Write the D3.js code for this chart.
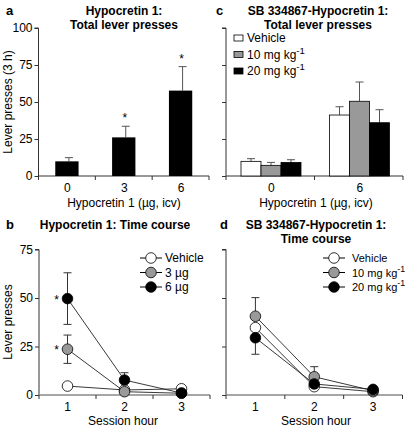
<!DOCTYPE html>
<html><head><meta charset="utf-8">
<script src="https://cdn.jsdelivr.net/npm/d3@7"></script>
<style>body{margin:0;background:#fff}svg{display:block;font-family:"Liberation Sans",Arial,sans-serif}</style>
</head><body>
<script>
// Panel a
const doseA = ["0","3","6"];
const meanA = [9.9, 26.1, 57.7];
const errA = [2.5, 7.5, 16.2];
const starA = [false, true, true];
const yTicksA = [0,25,50,75,100];
// Panel c
const doseC = ["0","6"];
const seriesC = ["Vehicle","10 mg kg","20 mg kg"];
const meanC = { "Vehicle":[9.9,41.2], "10 mg kg":[7.2,50.5], "20 mg kg":[9.2,36.0] };
const errC  = { "Vehicle":[1.8,5.6], "10 mg kg":[2.0,13.0], "20 mg kg":[1.8,8.8] };
// Panel b
const hours = [1,2,3];
const seriesB = ["Vehicle","3 µg","6 µg"];
const meanB = { "Vehicle":[4.6,2.6,3.2], "3 µg":[23.6,1.7,0.9], "6 µg":[49.7,7.7,1.0] };
const errB  = { "Vehicle":[0,0,0], "3 µg":[7.3,0,0], "6 µg":[13.3,3.8,0] };
const starB = { "Vehicle":[false,false,false], "3 µg":[true,false,false], "6 µg":[true,false,false] };
const yTicksB = [0,25,50,75];
// Panel d
const seriesD = ["Vehicle","10 mg kg","20 mg kg"];
const meanD = { "Vehicle":[34.7,4.3,1.7], "10 mg kg":[40.6,9.4,2.2], "20 mg kg":[29.5,5.7,2.9] };
const errUpD = { "Vehicle":[0,0,0], "10 mg kg":[9.6,5.2,0], "20 mg kg":[0,0,0] };
const errDnD = { "Vehicle":[0,0,0], "10 mg kg":[0,0,0], "20 mg kg":[8.5,0,0] };

const fills = ["#ffffff","#999999","#000000"];
const svg = d3.select("body").append("svg").attr("width",409).attr("height",429);
const axCol = "#333";

function text(x,y,t,opts={}){
  const el = svg.append("text").attr("x",x).attr("y",y).text(t)
    .attr("font-size",opts.size||12).attr("text-anchor",opts.anchor||"middle")
    .attr("font-weight",opts.bold?"bold":"normal").attr("fill","#000");
  return el;
}
function supText(x,y,base,sup,size){
  const el = svg.append("text").attr("x",x).attr("y",y).attr("font-size",size||12).attr("fill","#000");
  el.append("tspan").text(base);
  if(sup) el.append("tspan").attr("dy",-5).attr("font-size",(size||12)*0.8).text(sup);
  return el;
}

// ---------- Panel a ----------
{
  const x = d3.scaleBand().domain(doseA).range([38.5,209]).padding(0);
  const y = d3.scaleLinear().domain([0,100]).range([176,28]);
  const g = svg.append("g");
  g.append("line").attr("x1",38.5).attr("x2",209).attr("y1",y(0)).attr("y2",y(0)).attr("stroke",axCol);
  const bounds = doseA.map(d=>x(d)).concat([x(doseA[2])+x.bandwidth()]);
  bounds.forEach(b=>g.append("line").attr("x1",b).attr("x2",b).attr("y1",y(0)).attr("y2",y(0)+4).attr("stroke",axCol));
  doseA.forEach(d=>text(x(d)+x.bandwidth()/2+0.5,y(0)+16,d,{size:12}));
  const ya = g.append("g").attr("transform","translate(38.5,0)").call(d3.axisLeft(y).tickValues(yTicksA).tickSize(4).tickPadding(2));
  ya.selectAll("text").attr("font-size",12).attr("font-family","Liberation Sans, Arial").attr("fill","#000");
  ya.selectAll("line,path").attr("stroke",axCol);
  ya.select(".domain").attr("d",`M-4,${y(100)}H0V${y(0)}`);
  const bw = x.bandwidth()*0.41;
  doseA.forEach((d,i)=>{
    const cx = x(d)+x.bandwidth()/2;
    g.append("line").attr("x1",cx+2).attr("x2",cx+2).attr("y1",y(meanA[i])).attr("y2",y(meanA[i]+errA[i])).attr("stroke","#555");
    g.append("line").attr("x1",cx-2).attr("x2",cx+6).attr("y1",y(meanA[i]+errA[i])).attr("y2",y(meanA[i]+errA[i])).attr("stroke","#555");
    g.append("rect").attr("x",cx-bw/2).attr("width",bw).attr("y",y(meanA[i])).attr("height",y(0)-y(meanA[i])).attr("fill","#000");
    if(starA[i]) text(cx+1,y(meanA[i]+errA[i])-4,"*",{size:12});
  });
  text(6,15,"a",{size:13,bold:true,anchor:"start"});
  text(124,15,"Hypocretin 1:",{size:12,bold:true});
  text(124,29,"Total lever presses",{size:12,bold:true});
  text(124,207,"Hypocretin 1 (µg, icv)",{size:12});
  text(0,0,"Lever presses (3 h)",{size:12}).attr("transform","translate(12,102) rotate(-90)");
}

// ---------- Panel c ----------
{
  const x0 = d3.scaleBand().domain(doseC).range([226,403]).padding(0);
  const x1 = d3.scaleBand().domain(seriesC).range([15,75]).padding(0);
  const y = d3.scaleLinear().domain([0,100]).range([176,28]);
  const g = svg.append("g");
  g.append("line").attr("x1",226).attr("x2",403).attr("y1",y(0)).attr("y2",y(0)).attr("stroke",axCol);
  [226, x0("6"), 403].forEach(b=>g.append("line").attr("x1",b).attr("x2",b).attr("y1",y(0)).attr("y2",y(0)+4).attr("stroke",axCol));
  doseC.forEach(d=>text(x0(d)+x0.bandwidth()/2+1,y(0)+16,d,{size:12}));
  const ya = g.append("g").attr("transform","translate(226,0)").call(d3.axisLeft(y).tickValues(yTicksA).tickSize(4).tickFormat(""));
  ya.selectAll("line,path").attr("stroke",axCol);
  ya.select(".domain").attr("d",`M-4,${y(100)}H0V${y(0)}`);
  seriesC.forEach((s,si)=>{
    doseC.forEach((d,i)=>{
      const bx = x0(d)+x1(s), bw = x1.bandwidth();
      const m = meanC[s][i], e = errC[s][i];
      const cx = bx+bw/2;
      g.append("line").attr("x1",cx).attr("x2",cx).attr("y1",y(m)).attr("y2",y(m+e)).attr("stroke","#555");
      g.append("line").attr("x1",cx-4).attr("x2",cx+4).attr("y1",y(m+e)).attr("y2",y(m+e)).attr("stroke","#555");
      g.append("rect").attr("x",bx).attr("width",bw).attr("y",y(m)).attr("height",y(0)-y(m))
        .attr("fill",fills[si]).attr("stroke","#000").attr("stroke-width",0.8);
    });
    const ly = 38+si*16.5;
    g.append("rect").attr("x",234).attr("y",ly-3).attr("width",9).attr("height",6).attr("fill",fills[si]).attr("stroke","#000").attr("stroke-width",0.8);
    supText(247,ly+4,s,si>0?"-1":"",12);
  });
  text(216,15,"c",{size:13,bold:true,anchor:"start"});
  text(318,15,"SB 334867-Hypocretin 1:",{size:12,bold:true});
  text(318,29,"Total lever presses",{size:12,bold:true});
  text(316,207,"Hypocretin 1 (µg, icv)",{size:12});
}

// ---------- Line panels ----------
function linePanel(x0,x1r,series,mean,errUp,errDn,stars,legX,yLabels){
  const x = d3.scaleBand().domain(hours).range([x0,x1r]).padding(0);
  const y = d3.scaleLinear().domain([0,75]).range([395,249.5]);
  const g = svg.append("g");
  const cx = h=>x(h)+x.bandwidth()/2;
  const ya = g.append("g").attr("transform",`translate(${x0},0)`).call(d3.axisLeft(y).tickValues(yTicksB).tickSize(4).tickPadding(2)
     .tickFormat(yLabels?d3.format("d"):""));
  ya.selectAll("text").attr("font-size",12).attr("font-family","Liberation Sans, Arial").attr("fill","#000");
  ya.selectAll("line,path").attr("stroke",axCol);
  ya.select(".domain").attr("d",`M-4,${y(75)}H0V${y(0)}`);
  g.append("line").attr("x1",x0).attr("x2",x1r).attr("y1",y(0)).attr("y2",y(0)).attr("stroke","#888").attr("stroke-width",1.6);
  hours.map(h=>x(h)).concat([x1r]).forEach(b=>g.append("line").attr("x1",b).attr("x2",b).attr("y1",y(0)).attr("y2",y(0)+4).attr("stroke",axCol));
  hours.forEach(h=>text(cx(h),y(0)+16,String(h),{size:12}));
  series.forEach((s,si)=>{
    hours.forEach((h,i)=>{
      const m = mean[s][i];
      if(errUp[s][i]>0){
        g.append("line").attr("x1",cx(h)).attr("x2",cx(h)).attr("y1",y(m)).attr("y2",y(m+errUp[s][i])).attr("stroke","#333");
        g.append("line").attr("x1",cx(h)-4).attr("x2",cx(h)+4).attr("y1",y(m+errUp[s][i])).attr("y2",y(m+errUp[s][i])).attr("stroke","#333");
      }
      if(errDn[s][i]>0){
        g.append("line").attr("x1",cx(h)).attr("x2",cx(h)).attr("y1",y(m)).attr("y2",y(m-errDn[s][i])).attr("stroke","#333");
        g.append("line").attr("x1",cx(h)-4).attr("x2",cx(h)+4).attr("y1",y(m-errDn[s][i])).attr("y2",y(m-errDn[s][i])).attr("stroke","#333");
      }
    });
  });
  series.forEach((s,si)=>{
    const line = d3.line().x((d,i)=>cx(hours[i])).y(d=>y(d));
    g.append("path").attr("d",line(mean[s])).attr("fill","none").attr("stroke","#222").attr("stroke-width",0.9);
  });
  series.forEach((s,si)=>{
    hours.forEach((h,i)=>{
      g.append("circle").attr("cx",cx(h)).attr("cy",y(mean[s][i])).attr("r",5.3).attr("fill",fills[si]).attr("stroke","#000").attr("stroke-width",0.8);
      if(stars && stars[s][i]) text(cx(h)-11,y(mean[s][i])+5,"*",{size:12});
    });
    const ly = [258,272.5,287][si];
    g.append("line").attr("x1",legX-11).attr("x2",legX+11).attr("y1",ly).attr("y2",ly).attr("stroke","#000");
    g.append("circle").attr("cx",legX).attr("cy",ly).attr("r",5.3).attr("fill",fills[si]).attr("stroke","#000").attr("stroke-width",0.8);
  });
}
// Panel b
linePanel(39,210,seriesB,meanB,errB,errB,starB,151,true);
seriesB.forEach((s,si)=>text(165,[262,276.5,291][si],s,{size:12,anchor:"start"}));
text(6,229,"b",{size:13,bold:true,anchor:"start"});
text(115,229,"Hypocretin 1: Time course",{size:12,bold:true});
text(123,425,"Session hour",{size:12});
text(0,0,"Lever presses",{size:12}).attr("transform","translate(12,322) rotate(-90)");
// Panel d
linePanel(226,402.5,seriesD,meanD,errUpD,errDnD,null,334,false);
seriesD.forEach((s,si)=>supText(352,[262,276.5,291][si],s,si>0?"-1":"",11).attr("xml:space","preserve"));
text(220,229,"d",{size:13,bold:true,anchor:"start"});
text(316,229,"SB 334867-Hypocretin 1:",{size:12,bold:true});
text(316,243,"Time course",{size:12,bold:true});
text(316,425,"Session hour",{size:12});
</script>
</body></html>
